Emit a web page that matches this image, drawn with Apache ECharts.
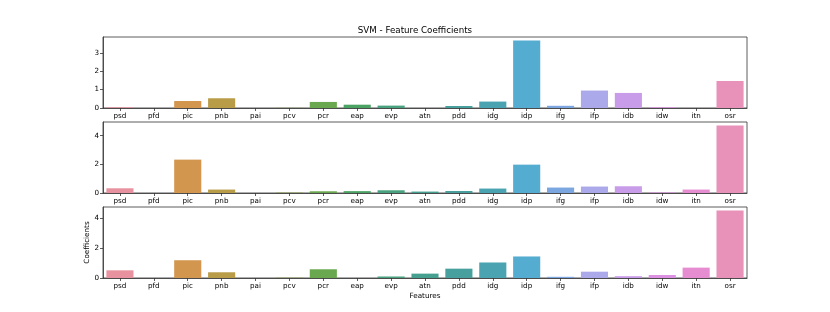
<!DOCTYPE html>
<html><head><meta charset="utf-8">
<script src="https://cdn.jsdelivr.net/npm/echarts@6/dist/echarts.min.js"></script>
<style>html,body{margin:0;padding:0;background:#fff}#c{width:830px;height:312px}</style>
</head><body><div id="c"></div>
<script>
const categories = ['psd','pfd','pic','pnb','pai','pcv','pcr','eap','evp','atn','pdd','idg','idp','ifg','ifp','idb','idw','itn','osr'];
const coef1 = [0.04,0,0.38,0.53,0,0.01,0.33,0.18,0.13,0,0.11,0.35,3.68,0.12,0.95,0.82,0.04,0,1.47];
const coef2 = [0.33,0,2.33,0.24,0,0.03,0.12,0.13,0.19,0.10,0.14,0.31,1.98,0.38,0.45,0.47,0.04,0.24,4.72];
const coef3 = [0.51,0,1.18,0.38,0,0.02,0.58,0,0.10,0.29,0.62,1.03,1.43,0.08,0.42,0.12,0.20,0.69,4.49];
const yTicks1 = [0,1,2,3];
const yTicks2 = [0,2,4];
const yTicks3 = [0,2,4];
const palette = ['#e8929f','#dd9a73','#d3964e','#b99c48','#a3a044','#8fa442','#6aa84f','#4aa362','#48a17f','#46a090','#47a09d','#4aa3b0','#55acd1','#7ba6e0','#aba9e9','#c89ce8','#dc91e2','#e68dd1','#e891b9'];

const font = 'DejaVu Sans';
const panels = [coef1, coef2, coef3];
const ticks = [yTicks1, yTicks2, yTicks3];
const tops = [37, 122, 207];
const grids = [], xAxes = [], yAxes = [], series = [];
panels.forEach((vals, i) => {
  grids.push({left:103, right:83, top:tops[i], height:71, show:true, borderColor:'#333', borderWidth:0.8, backgroundColor:'transparent'});
  xAxes.push({
    type:'category', gridIndex:i, data:categories,
    name: i===2 ? 'Features' : '', nameLocation:'middle', nameGap:15, nameMoveOverlap:false,
    nameTextStyle:{fontFamily:font, fontSize:7.2, color:'#000'},
    axisLine:{show:true, lineStyle:{color:'#333', width:0.8}},
    axisTick:{show:true, alignWithLabel:true, length:3, lineStyle:{color:'#333', width:0.8}},
    axisLabel:{fontFamily:font, fontSize:7.2, color:'#000', margin:5, interval:0}
  });
  yAxes.push({
    type:'value', gridIndex:i, min:0, max:Math.max(...vals)*1.05,
    name: i===2 ? 'Coefficients' : '', nameLocation:'middle', nameGap:12, nameRotate:90, nameMoveOverlap:false,
    nameTextStyle:{fontFamily:font, fontSize:7.2, color:'#000'},
    splitLine:{show:false},
    axisLine:{show:true, lineStyle:{color:'#333', width:0.8}},
    axisTick:{show:true, length:3, customValues:ticks[i], lineStyle:{color:'#333', width:0.8}},
    axisLabel:{fontFamily:font, fontSize:7.2, color:'#000', margin:4, customValues:ticks[i]}
  });
  series.push({
    type:'bar', xAxisIndex:i, yAxisIndex:i, barCategoryGap:'20%',
    data: vals.map((v, k) => ({value:v, itemStyle:{color:palette[k]}})),
    silent:true, animation:false
  });
});
const chart = echarts.init(document.getElementById('c'), null, {renderer:'canvas'});
chart.setOption({
  animation:false,
  backgroundColor:'#fff',
  title:{text:'SVM - Feature Coefficients', left:'center', top:26, padding:0,
    textStyle:{fontFamily:font, fontSize:8.7, fontWeight:'normal', color:'#000'}},
  grid:grids, xAxis:xAxes, yAxis:yAxes, series:series
});
</script></body></html>
